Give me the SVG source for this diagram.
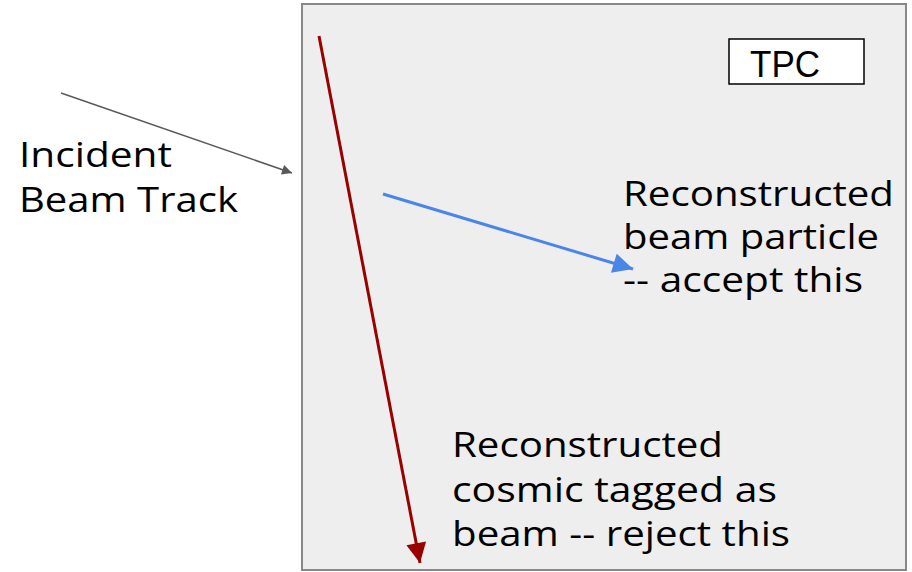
<svg xmlns="http://www.w3.org/2000/svg" width="912" height="572" viewBox="0 0 912 572">
<defs>
<style>
.lbl{font-family:"Open Sans","Noto Sans","DejaVu Sans",sans-serif;font-size:34px;fill:#000}
.tpc{font-family:"Liberation Sans",Arial,sans-serif;font-size:36px;fill:#000}
</style>
<marker id="ahGray" viewBox="0 0 10 10" refX="10" refY="5" markerWidth="14" markerHeight="10" markerUnits="userSpaceOnUse" orient="auto"><path d="M0,0 L10,5 L0,10 Z" fill="#595959"/></marker>
<marker id="ahBlue" viewBox="0 0 10 10" refX="10" refY="5" markerWidth="32" markerHeight="20" markerUnits="userSpaceOnUse" orient="auto"><path d="M0,0 L10,5 L0,10 Z" fill="#4a86e8"/></marker>
<marker id="ahRed" viewBox="0 0 10 10" refX="10" refY="5" markerWidth="30" markerHeight="20" markerUnits="userSpaceOnUse" orient="auto"><path d="M0,0 L10,5 L0,10 Z" fill="#990000"/></marker>
</defs>
<rect width="912" height="572" fill="#ffffff"/>
<g id="tpc-box">
<rect x="302" y="4" width="604" height="566" fill="#eeeeee" stroke="#888888" stroke-width="2"/>
</g>
<g id="tpc-label">
<rect x="729" y="39" width="135" height="45" fill="#ffffff" stroke="#000000" stroke-width="1.5"/>
<text class="tpc" x="750" y="77" textLength="70" lengthAdjust="spacingAndGlyphs">TPC</text>
</g>
<g id="incident-label">
<text class="lbl" x="19" y="167" textLength="153" lengthAdjust="spacingAndGlyphs">Incident</text>
<text class="lbl" x="19" y="212" textLength="219" lengthAdjust="spacingAndGlyphs">Beam Track</text>
</g>
<g id="beam-label">
<text class="lbl" x="623" y="206" textLength="271" lengthAdjust="spacingAndGlyphs">Reconstructed</text>
<text class="lbl" x="623" y="249" textLength="256" lengthAdjust="spacingAndGlyphs">beam particle</text>
<text class="lbl" x="623" y="292" textLength="240" lengthAdjust="spacingAndGlyphs">-- accept this</text>
</g>
<g id="cosmic-label">
<text class="lbl" x="452" y="457" textLength="271" lengthAdjust="spacingAndGlyphs">Reconstructed</text>
<text class="lbl" x="452" y="502" textLength="325" lengthAdjust="spacingAndGlyphs">cosmic tagged as</text>
<text class="lbl" x="452" y="546" textLength="338" lengthAdjust="spacingAndGlyphs">beam -- reject this</text>
</g>
<g id="connectors">
<line x1="61" y1="93" x2="292" y2="173" stroke="#595959" stroke-width="1.5" marker-end="url(#ahGray)"/>
<line x1="383" y1="194" x2="633" y2="269" stroke="#4a86e8" stroke-width="3" marker-end="url(#ahBlue)"/>
<line x1="319" y1="36" x2="420" y2="563" stroke="#990000" stroke-width="3" marker-end="url(#ahRed)"/>
</g>
</svg>
